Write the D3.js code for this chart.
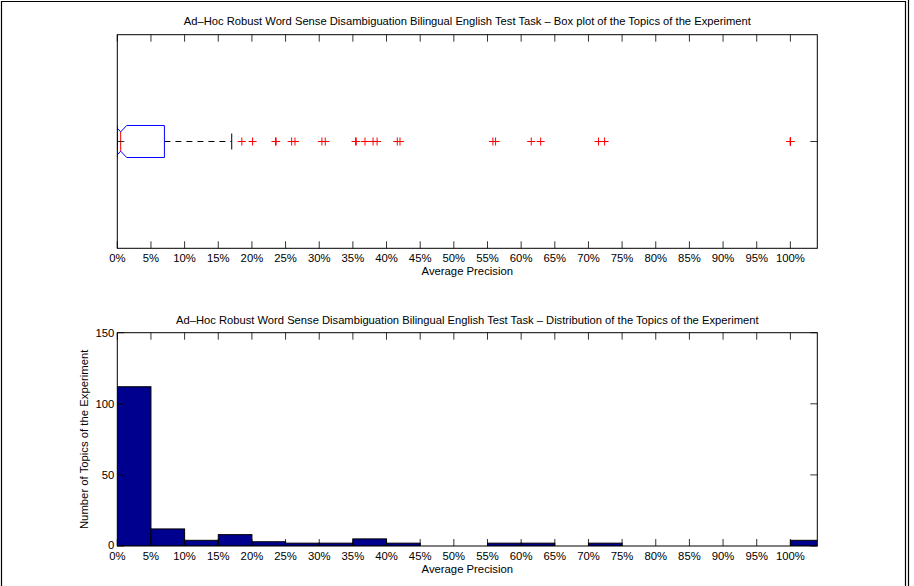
<!DOCTYPE html>
<html><head><meta charset="utf-8">
<script src="https://cdn.jsdelivr.net/npm/d3@7"></script>
<style>
body{margin:0;background:#fff;}
svg text{font-family:"Liberation Sans",Arial,Helvetica,sans-serif;}
</style></head>
<body><svg id="c" width="914" height="586"></svg>
<script>
// ---- data ----
const xTicks = d3.range(0, 101, 5);            // percent ticks
const xTickLabels = xTicks.map(v => v + "%");
const binEdges = d3.range(0, 106, 5);           // histogram bin edges (percent)
const binCounts = [112, 12, 4, 8, 3, 2, 2, 5, 2, 0, 0, 2, 2, 0, 2, 0, 0, 0, 0, 0, 4];
const yTicks = [0, 50, 100, 150];
// box-plot summary (percent)
const boxQ1 = 0, boxMedian = 0.5, boxQ3 = 7.0, whiskerLow = 0, whiskerHigh = 17.0;
const notchLow = -0.37, notchHigh = 1.4;
const outliers = [18.5, 20.1, 23.5, 23.6, 25.9, 26.4, 30.4, 30.9, 35.4, 35.5, 36.8, 38.0, 38.6,
                  41.6, 42.0, 55.8, 56.2, 61.5, 62.9, 71.5, 72.4, 100, 100, 100, 100];
const title1 = "Ad\u2013Hoc Robust Word Sense Disambiguation Bilingual English Test Task \u2013 Box plot of the Topics of the Experiment";
const title2 = "Ad\u2013Hoc Robust Word Sense Disambiguation Bilingual English Test Task \u2013 Distribution of the Topics of the Experiment";
const xLabel = "Average Precision";
const yLabel = "Number of Topics of the Experiment";

const svg = d3.select("#c");
// page border
svg.append("path").attr("d","M1.5,586 V1.5 H905.5 V586").attr("fill","none").attr("stroke","#000").attr("stroke-width",1.2);
svg.append("line").attr("x1",908.5).attr("x2",908.5).attr("y1",0).attr("y2",586).attr("stroke","#000").attr("stroke-width",1.2);

const L = 117.3, R = 817.3;
const x = d3.scaleLinear().domain([0, 104]).range([L, R]);
const tickLen = 7;
const fs = "11.3px";
const tfs = "11.2px";

function drawXTicks(g, top, bottom) {
  xTicks.forEach((t, i) => {
    const px = x(t);
    g.append("line").attr("x1",px).attr("x2",px).attr("y1",bottom).attr("y2",bottom-tickLen).attr("stroke","#000").attr("stroke-width",0.8);
    g.append("line").attr("x1",px).attr("x2",px).attr("y1",top).attr("y2",top+tickLen).attr("stroke","#000").attr("stroke-width",0.8);
    g.append("text").attr("x",px).attr("y",bottom+13.5).attr("text-anchor","middle").attr("font-size",fs).text(xTickLabels[i]);
  });
  g.append("text").attr("x",(L+R)/2).attr("y",bottom+27).attr("text-anchor","middle").attr("font-size",fs).text(xLabel);
}

// ---- top: box plot ----
{
  const top = 34.7, bottom = 248.3;
  const y = d3.scaleLinear().domain([0, 2]).range([bottom, top]);
  const g = svg.append("g");
  g.append("text").attr("x",(L+R)/2).attr("y",top-10).attr("text-anchor","middle").attr("font-size",tfs).text(title1);
  g.append("defs").append("clipPath").attr("id","clip1").append("rect").attr("x",L).attr("y",top).attr("width",R-L).attr("height",bottom-top);
  const pg = g.append("g").attr("clip-path","url(#clip1)");
  const c = 1, hw = 0.15, nw = 0.09, cap = 0.075;
  // whisker (dashed)
  pg.append("line").attr("x1",x(boxQ3)).attr("x2",x(whiskerHigh)).attr("y1",y(c)).attr("y2",y(c))
    .attr("stroke","#000").attr("stroke-dasharray","6,5");
  pg.append("line").attr("x1",x(whiskerHigh)).attr("x2",x(whiskerHigh)).attr("y1",y(c-cap)).attr("y2",y(c+cap)).attr("stroke","#000");
  pg.append("line").attr("x1",x(whiskerLow)).attr("x2",x(whiskerLow)).attr("y1",y(c-cap)).attr("y2",y(c+cap)).attr("stroke","#000");
  // notched box
  const pts = [[boxQ1,c-hw],[boxQ1,c+hw],[notchLow,c+hw],[boxMedian,c+nw],[notchHigh,c+hw],[boxQ3,c+hw],
               [boxQ3,c-hw],[notchHigh,c-hw],[boxMedian,c-nw],[notchLow,c-hw],[boxQ1,c-hw]];
  pg.append("path").attr("d", d3.line().x(d=>x(d[0])).y(d=>y(d[1]))(pts)).attr("fill","none").attr("stroke","#0000ff").attr("stroke-width",1);
  pg.append("line").attr("x1",x(boxMedian)).attr("x2",x(boxMedian)).attr("y1",y(c+nw)).attr("y2",y(c-nw)).attr("stroke","#ff0000").attr("stroke-width",1);
  // outliers
  outliers.forEach(v => {
    const px = x(v), py = y(c);
    pg.append("path").attr("d",`M${px-4},${py}H${px+4}M${px},${py-4}V${py+4}`).attr("stroke","#ff0000").attr("stroke-width",1);
  });
  // axes frame + ticks
  g.append("rect").attr("x",L).attr("y",top).attr("width",R-L).attr("height",bottom-top).attr("fill","none").attr("stroke","#000").attr("stroke-width",1);
  g.append("line").attr("x1",L).attr("x2",L+tickLen).attr("y1",y(c)).attr("y2",y(c)).attr("stroke","#000").attr("stroke-width",0.8);
  g.append("line").attr("x1",R).attr("x2",R-tickLen).attr("y1",y(c)).attr("y2",y(c)).attr("stroke","#000").attr("stroke-width",0.8);
  drawXTicks(g, top, bottom);
}

// ---- bottom: histogram ----
{
  const top = 332.7, bottom = 546;
  const y = d3.scaleLinear().domain([0, 150]).range([bottom, top]);
  const g = svg.append("g");
  g.append("text").attr("x",(L+R)/2).attr("y",top-8.5).attr("text-anchor","middle").attr("font-size",tfs).text(title2);
  g.append("defs").append("clipPath").attr("id","clip2").append("rect").attr("x",L).attr("y",top).attr("width",R-L).attr("height",bottom-top);
  const pg = g.append("g").attr("clip-path","url(#clip2)");
  binCounts.forEach((n, i) => {
    const x0 = x(binEdges[i]), x1 = x(binEdges[i+1]);
    pg.append("rect").attr("x",x0).attr("y",y(n)).attr("width",x1-x0).attr("height",y(0)-y(n))
      .attr("fill","#00008f").attr("stroke","#000").attr("stroke-width",1);
  });
  g.append("rect").attr("x",L).attr("y",top).attr("width",R-L).attr("height",bottom-top).attr("fill","none").attr("stroke","#000").attr("stroke-width",1);
  yTicks.forEach(t => {
    const py = y(t);
    g.append("line").attr("x1",L).attr("x2",L+tickLen).attr("y1",py).attr("y2",py).attr("stroke","#000").attr("stroke-width",0.8);
    g.append("line").attr("x1",R).attr("x2",R-tickLen).attr("y1",py).attr("y2",py).attr("stroke","#000").attr("stroke-width",0.8);
    g.append("text").attr("x",L-3).attr("y",py+(t === 0 ? 3 : 4)).attr("text-anchor","end").attr("font-size",fs).text(t);
  });
  drawXTicks(g, top, bottom);
  g.append("text").attr("transform",`translate(88,${(top+bottom)/2}) rotate(-90)`).attr("text-anchor","middle").attr("font-size",fs).text(yLabel);
}
</script></body></html>
